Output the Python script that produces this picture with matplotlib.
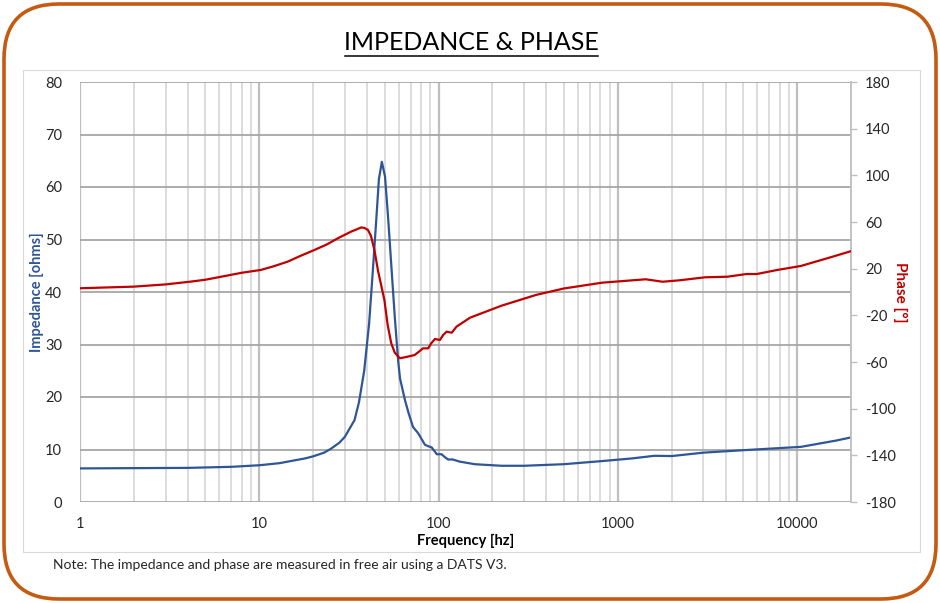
import matplotlib.pyplot as plt
from matplotlib.patches import FancyBboxPatch, Rectangle
from matplotlib.ticker import FixedLocator, NullFormatter, LogLocator

plt.rcParams['font.family'] = ['Lato', 'DejaVu Sans']
plt.rcParams['axes.unicode_minus'] = False

# impedance curve
imp_freq = [1, 2, 4, 7, 10, 13, 15, 18, 20, 23, 25, 28, 30, 34, 36, 38.5, 41,
            43, 45, 46.5, 48.3, 50.3, 52.3, 54.6, 57, 59.5, 61, 65, 68, 72, 77,
            84, 88, 91.6, 97.8, 104, 108, 113, 120, 131, 159, 225, 300, 500,
            820, 1200, 1600, 2000, 3000, 5200, 10500, 16500, 20000]
imp_ohms = [6.4, 6.45, 6.5, 6.7, 7.0, 7.4, 7.8, 8.3, 8.7, 9.4, 10.1, 11.3,
            12.4, 15.6, 19.0, 25, 34, 44, 54, 61.5, 64.8, 62, 54.3, 44.8,
            35.3, 27, 23.5, 19.4, 17.0, 14.3, 13.1, 10.9, 10.6, 10.4, 9.1,
            9.1, 8.6, 8.1, 8.1, 7.7, 7.2, 6.9, 6.9, 7.2, 7.8, 8.3, 8.8, 8.75,
            9.4, 9.9, 10.5, 11.7, 12.3]

# phase curve
ph_freq = [1, 2, 3, 4.1, 5, 6.9, 8, 10.2, 12, 14.4, 17, 20.3, 24, 27.4, 32.5,
           37, 38.5, 40.4, 42, 43.9, 46, 49.9, 52, 54.5, 57, 60.9, 67, 73.6,
           78, 81.9, 87.6, 91, 95.5, 101.9, 106, 110.9, 118.5, 126, 150, 225,
           350, 500, 819, 1431, 1778, 2200, 3072, 4085, 5216, 5957, 7765,
           10500, 15340, 20000]
ph_deg = [3.2, 4.6, 6.5, 8.8, 10.5, 14.6, 16.5, 18.9, 22, 26, 31, 36, 41, 46,
          51.7, 55.3, 55, 53.2, 48, 36, 18, -6.9, -28, -44, -52, -56.8, -55.5,
          -54, -51, -48.3, -48.3, -44, -40.3, -41.1, -37, -34, -34.9, -29.7,
          -22, -11.7, -2.5, 3, 8, 10.9, 8.8, 10, 12.6, 13.1, 15.4, 15.4, 18.9,
          22.3, 29.7, 35]

x_ticks = [1, 10, 100, 1000, 10000]
x_labels = ['1', '10', '100', '1000', '10000']
z_ticks = list(range(0, 81, 10))
ph_ticks = list(range(-180, 181, 40))

BLUE = '#2F5597'
RED = '#C00000'
W, H = 940, 603

fig = plt.figure(figsize=(W / 100, H / 100), dpi=100)

# frame around everything
bg = fig.add_axes([0, 0, 1, 1], zorder=0)
bg.set_xlim(0, W)
bg.set_ylim(H, 0)
bg.axis('off')
bg.add_patch(FancyBboxPatch((4, 4), W - 8, H - 8,
                            boxstyle='round,pad=0,rounding_size=55',
                            fill=False, ec='#C55A11', lw=2.6))
bg.add_patch(Rectangle((23, 70), 897, 482, fill=False, ec='#d9d9d9', lw=0.8))
bg.text(471, 42, 'IMPEDANCE & PHASE', ha='center', va='center',
        fontsize=18, color='black')
bg.plot([345, 598], [56, 56], color='black', lw=1.1)
bg.text(53, 565, 'Note: The impedance and phase are measured in free air using a DATS V3.',
        ha='left', va='center', fontsize=10, color='#262626')

ax = fig.add_axes([80 / W, (H - 502) / H, 771 / W, 420 / H], zorder=1)
ax.patch.set_alpha(0)
ax.set_xscale('log')
ax.set_xlim(1, 20000)
ax.set_ylim(0, 80)

ax.xaxis.set_major_locator(FixedLocator(x_ticks))
ax.set_xticklabels(x_labels)
ax.xaxis.set_minor_locator(LogLocator(base=10, subs=range(2, 10)))
ax.xaxis.set_minor_formatter(NullFormatter())
ax.set_yticks(z_ticks)

ax.grid(True, which='major', axis='x', color='#bfbfbf', lw=1.6)
ax.grid(True, which='minor', axis='x', color='#d9d9d9', lw=1.3)
ax.grid(True, which='major', axis='y', color='#a6a6a6', lw=1.3)
ax.set_axisbelow(True)
for s in ax.spines.values():
    s.set_visible(False)
ax.tick_params(which='both', length=0)
ax.tick_params(axis='x', pad=11, labelsize=10.5, colors='#262626')
ax.tick_params(axis='y', pad=13, labelsize=10.5, colors='#262626')

ax.plot(imp_freq, imp_ohms, color=BLUE, lw=1.6, zorder=3)
ax.set_ylabel('Impedance [ohms]', color=BLUE, fontweight='bold',
              fontsize=10.5, labelpad=0.5)
ax.set_xlabel('Frequency [hz]', fontweight='bold', fontsize=10.5, labelpad=2)

ax2 = ax.twinx()
ax2.set_ylim(-180, 180)
ax2.set_yticks(ph_ticks)
for s in ['top', 'left', 'bottom']:
    ax2.spines[s].set_visible(False)
ax2.spines['right'].set_color('#bfbfbf')
ax2.spines['right'].set_linewidth(1.3)
ax2.tick_params(axis='y', length=4, width=1, color='#bfbfbf', pad=6,
                labelsize=10.5, labelcolor='#262626')
ax2.plot(ph_freq, ph_deg, color=RED, lw=1.6, zorder=3)
ax2.set_ylabel('Phase [°]', color=RED, fontweight='bold', fontsize=11,
               rotation=-90, labelpad=8)

fig.savefig('out.png', dpi=100)
